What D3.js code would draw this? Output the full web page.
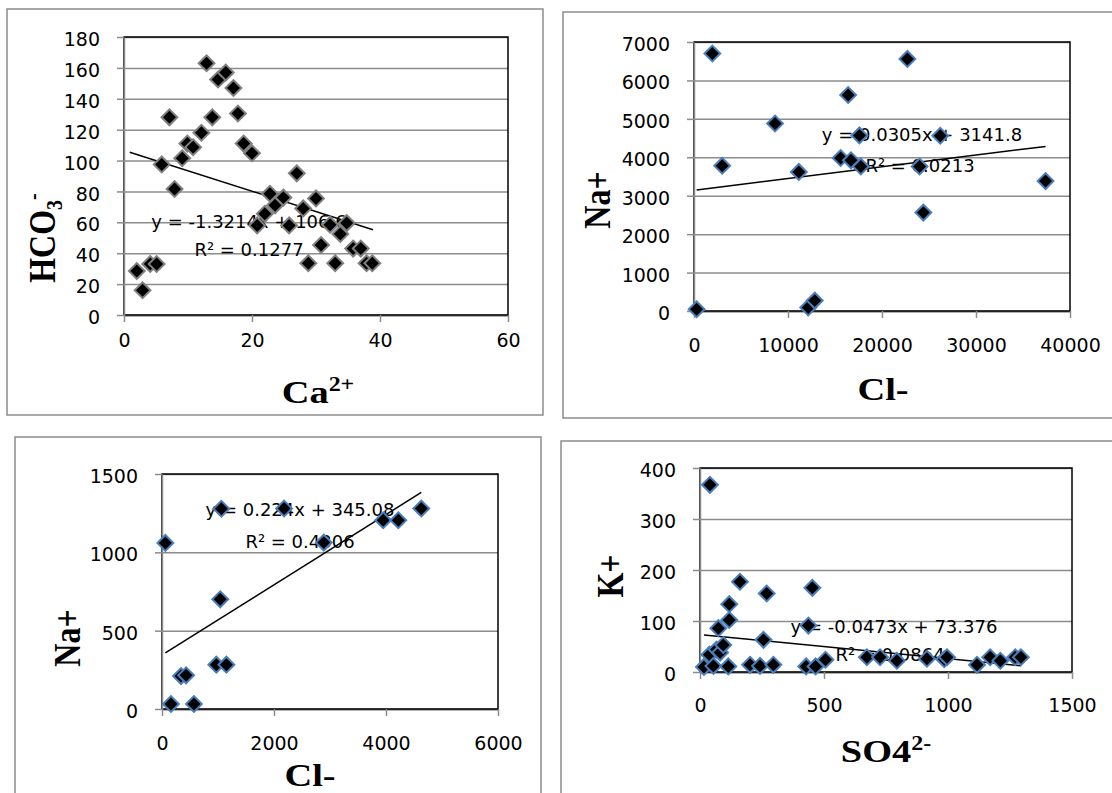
<!DOCTYPE html>
<html>
<head>
<meta charset="utf-8">
<script src="https://cdn.jsdelivr.net/npm/d3@7"></script>
<style>
  body { margin: 0; background: #fff; }
  svg { display: block; }
  .eq { font-family: "DejaVu Sans", sans-serif; font-size: 18px; fill: #000; }
  .title { font-family: "Liberation Serif", "Times New Roman", serif; font-weight: bold; font-size: 32px; fill: #000; }
</style>
</head>
<body>
<svg id="chart" width="1112" height="793"></svg>
<script>
// Ca2+ vs HCO3-
const caX = [2.0, 2.9, 4.1, 5.1, 5.9, 7.1, 7.9, 9.1, 9.9, 10.8, 12.1, 12.9, 13.8, 14.7, 15.9, 17.1, 17.8, 18.7, 20.0,
  20.8, 22.0, 22.8, 23.6, 24.9, 25.8, 27.0, 28.0, 28.8, 30.0, 30.8, 32.2, 33.0, 33.8, 34.8, 35.8, 37.0, 37.9, 38.8];
const hco3Y = [28.5, 16, 33, 33, 97.5, 128, 81.6, 101.5, 111, 108.6, 118, 163, 128, 152.5, 157, 147, 130.5, 111, 104.7,
  58, 65.5, 78.5, 71, 76, 58, 91.7, 69, 33.5, 75.5, 45.3, 58.5, 33.5, 52.5, 59.5, 43, 43, 33.5, 33.5];
const caXTicks = [0, 20, 40, 60];
const hco3YTicks = [0, 20, 40, 60, 80, 100, 120, 140, 160, 180];
const caFit = [-1.3214, 106.6];
const caFitRange = [0.9, 38.9];
const caEq = ["y = -1.3214x + 106.6", "R² = 0.1277"];

// Cl- vs Na+ (large)
const cl1X = [280, 1950, 3000, 8620, 11150, 12150, 12850, 15600, 16400, 16700, 17600, 17750, 22700, 24000, 24400, 26200, 37400];
const na1Y = [45, 6700, 3780, 4880, 3620, 90, 270, 3980, 5620, 3920, 4570, 3760, 6560, 3760, 2560, 4560, 3380];
const cl1XTicks = [0, 10000, 20000, 30000, 40000];
const na1YTicks = [0, 1000, 2000, 3000, 4000, 5000, 6000, 7000];
const cl1Fit = [0.0305, 3141.8];
const cl1FitRange = [280, 37400];
const cl1Eq = ["y = 0.0305x + 3141.8", "R² = 0.0213"];

// Cl- vs Na+ (small)
const cl2X = [60, 160, 340, 430, 570, 970, 1040, 1060, 1150, 2180, 2890, 3950, 4220, 4630];
const na2Y = [1060, 32, 210, 215, 32, 283, 700, 1278, 283, 1280, 1062, 1205, 1205, 1280];
const cl2XTicks = [0, 2000, 4000, 6000];
const na2YTicks = [0, 500, 1000, 1500];
const cl2Fit = [0.224, 345.08];
const cl2FitRange = [60, 4630];
const cl2Eq = ["y = 0.224x + 345.08", "R² = 0.4306"];

// SO4 2- vs K+
const so4X = [16, 38, 54, 40, 67, 74, 81, 94, 114, 118, 118, 161, 202, 242, 256, 269, 296, 428, 437, 453, 466, 506,
  673, 726, 794, 915, 985, 996, 1117, 1170, 1211, 1271, 1294];
const kY = [10, 34, 12, 367, 44, 86, 38, 53, 11, 102, 133, 177, 14, 12, 63, 154, 14, 11, 91, 165, 11, 24,
  29, 29, 22, 26, 25, 29, 14, 29, 22, 29, 29];
const so4XTicks = [0, 500, 1000, 1500];
const kYTicks = [0, 100, 200, 300, 400];
const so4Fit = [-0.0473, 73.376];
const so4FitRange = [16, 1294];
const so4Eq = ["y = -0.0473x + 73.376", "R² = 0.0864"];

const svg = d3.select("#chart");
svg.append("rect").attr("width", 1112).attr("height", 793).attr("fill", "#fff");

const diamond = d3.symbol(d3.symbolSquare, 125);
const fmt = d3.format("d");

const styleTicks = (a) => {
  a.selectAll("text")
    .attr("fill", "#000")
    .style("font-family", "'DejaVu Sans', sans-serif")
    .style("font-size", "19px");
  a.select(".domain").attr("stroke-width", 1.5);
  a.selectAll("line").attr("stroke", "#8c8c8c").attr("stroke-width", 1.5);
};

function drawPanel(p) {
  const g = svg.append("g");
  g.append("rect")
    .attr("x", p.frame[0]).attr("y", p.frame[1])
    .attr("width", p.frame[2] - p.frame[0]).attr("height", p.frame[3] - p.frame[1])
    .attr("fill", "#fff").attr("stroke", "#8c8c8c").attr("stroke-width", 1.5);

  const [l, t, r, b] = p.plot;
  const x = d3.scaleLinear().domain(d3.extent(p.xTicks)).range([l, r]);
  const y = d3.scaleLinear().domain(d3.extent(p.yTicks)).range([b, t]);

  // gridlines
  g.append("g")
    .attr("transform", `translate(${l},0)`)
    .call(d3.axisLeft(y).tickValues(p.yTicks).tickSize(-(r - l)).tickSizeOuter(0).tickFormat(""))
    .call((a) => a.select(".domain").remove())
    .selectAll("line").attr("stroke", "#8c8c8c").attr("stroke-width", 1.5);

  // plot border
  g.append("rect")
    .attr("x", l).attr("y", t).attr("width", r - l).attr("height", b - t)
    .attr("fill", "none").attr("stroke", "#000").attr("stroke-width", 1.5);

  const yAxis = g.append("g")
    .attr("transform", `translate(${l},0)`)
    .call(d3.axisLeft(y).tickValues(p.yTicks).tickFormat(fmt).tickSize(7).tickSizeOuter(0).tickPadding(17))
    .call(styleTicks);
  yAxis.select(".domain").attr("stroke", "#8c8c8c");
  yAxis.selectAll("text").attr("dy", "0.45em");

  const xAxis = g.append("g")
    .attr("transform", `translate(0,${b})`)
    .call(d3.axisBottom(x).tickValues(p.xTicks).tickFormat(fmt).tickSize(7).tickSizeOuter(0).tickPadding(p.xPad))
    .call(styleTicks);
  xAxis.select(".domain").attr("stroke", "#222");

  // equation labels
  p.eq.forEach((s, i) => {
    g.append("text").attr("class", "eq")
      .attr("x", p.eqPos[i][0]).attr("y", p.eqPos[i][1])
      .attr("text-anchor", "middle").text(s);
  });

  // trendline
  const fitPts = p.fitRange.map((v) => ({ x: v, y: p.fit[0] * v + p.fit[1] }));
  g.append("path")
    .datum(fitPts)
    .attr("fill", "none").attr("stroke", "#000").attr("stroke-width", 1.5)
    .attr("d", d3.line().x((d) => x(d.x)).y((d) => y(d.y)));

  // markers
  g.append("g")
    .selectAll("path")
    .data(p.xs.map((v, i) => [v, p.ys[i]]))
    .join("path")
    .attr("d", diamond)
    .attr("transform", (d) => `translate(${x(d[0])},${y(d[1])}) rotate(45)`)
    .attr("fill", "#000")
    .attr("stroke", p.markerStroke)
    .attr("stroke-width", 2);

  // axis titles
  const xt = g.append("text").attr("class", "title")
    .attr("text-anchor", "middle")
    .attr("transform", `translate(${p.xTitlePos[0]},${p.xTitlePos[1]}) scale(1.2,1)`);
  p.xTitle.forEach((part) => {
    xt.append("tspan").attr("font-size", part.sup ? "20px" : null)
      .attr("dy", part.sup ? "-0.6em" : null).text(part.t);
  });

  const yt = g.append("text").attr("class", "title")
    .attr("text-anchor", "middle")
    .attr("transform", `translate(${p.yTitlePos[0]},${p.yTitlePos[1]}) rotate(-90) scale(1,1.2)`);
  p.yTitle.forEach((part) => {
    const ts = yt.append("tspan").text(part.t);
    if (part.sub) ts.attr("font-size", "20px").attr("dy", "0.3em");
    if (part.sup) ts.attr("font-size", "20px").attr("dy", "-0.9em");
  });
}

drawPanel({
  frame: [7, 9, 543, 415], plot: [124, 37, 508, 315],
  xs: caX, ys: hco3Y, xTicks: caXTicks, yTicks: hco3YTicks, xPad: 12,
  fit: caFit, fitRange: caFitRange, eq: caEq, eqPos: [[249, 228], [249, 256]],
  markerStroke: "#7f7f7f",
  xTitle: [{ t: "Ca" }, { t: "2+", sup: true }], xTitlePos: [318, 403],
  yTitle: [{ t: "HCO" }, { t: "3", sub: true }, { t: "-", sup: true }], yTitlePos: [55, 238]
});

drawPanel({
  frame: [563, 12, 1120, 418], plot: [694, 42, 1070, 311],
  xs: cl1X, ys: na1Y, xTicks: cl1XTicks, yTicks: na1YTicks, xPad: 21,
  fit: cl1Fit, fitRange: cl1FitRange, eq: cl1Eq, eqPos: [[922, 141], [920, 172]],
  markerStroke: "#4a7ebb",
  xTitle: [{ t: "Cl-" }], xTitlePos: [883, 400],
  yTitle: [{ t: "Na+" }], yTitlePos: [610, 200]
});

drawPanel({
  frame: [15, 437, 541, 800], plot: [162, 474, 498, 709],
  xs: cl2X, ys: na2Y, xTicks: cl2XTicks, yTicks: na2YTicks, xPad: 21,
  fit: cl2Fit, fitRange: cl2FitRange, eq: cl2Eq, eqPos: [[300, 516], [300, 548]],
  markerStroke: "#4a7ebb",
  xTitle: [{ t: "Cl-" }], xTitlePos: [310, 786],
  yTitle: [{ t: "Na+" }], yTitlePos: [80, 638]
});

drawPanel({
  frame: [561, 441, 1120, 800], plot: [700, 468, 1072, 672],
  xs: so4X, ys: kY, xTicks: so4XTicks, yTicks: kYTicks, xPad: 20,
  fit: so4Fit, fitRange: so4FitRange, eq: so4Eq, eqPos: [[894, 633], [890, 661]],
  markerStroke: "#4a7ebb",
  xTitle: [{ t: "SO4" }, { t: "2-", sup: true }], xTitlePos: [886, 762],
  yTitle: [{ t: "K+" }], yTitlePos: [623, 576]
});
</script>
</body>
</html>
